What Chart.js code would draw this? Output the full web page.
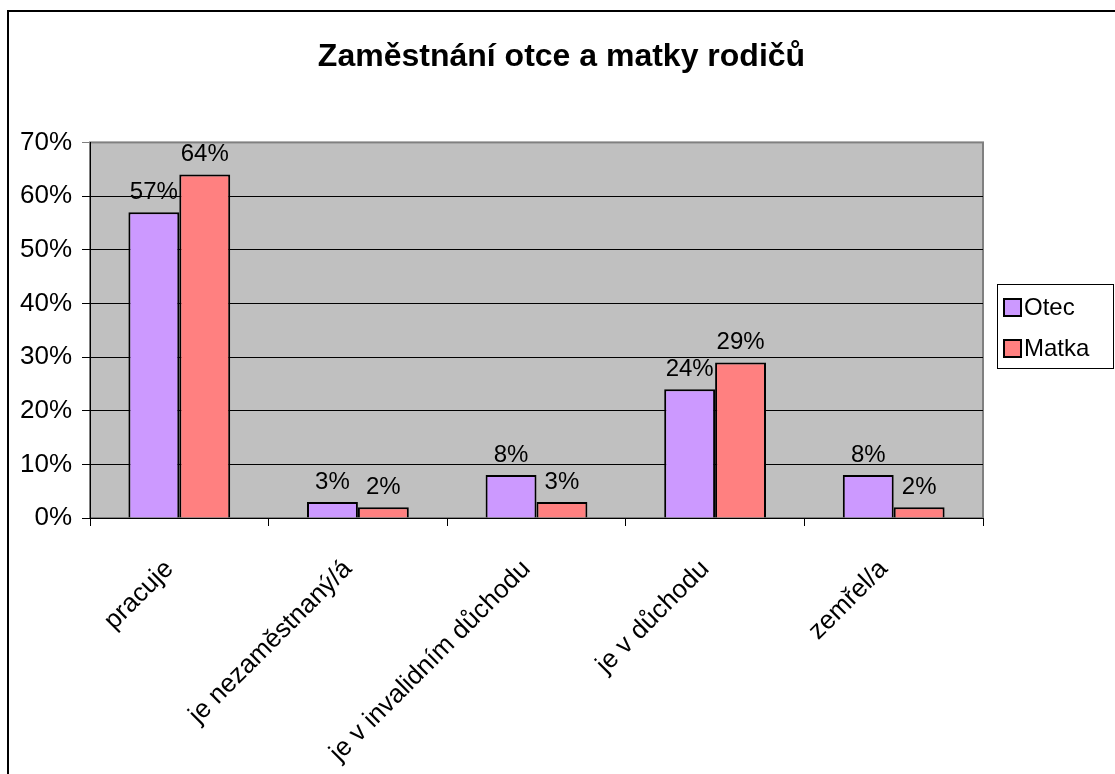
<!DOCTYPE html>
<html>
<head>
<meta charset="utf-8">
<script src="https://cdn.jsdelivr.net/npm/chart.js@4.4.1/dist/chart.umd.min.js"></script>
<style>
    html, body { margin: 0; padding: 0; background: #fff; overflow: hidden; }
    #frame { position: absolute; left: 7px; top: 10px; width: 1200px; height: 900px;
             border-left: 2px solid #000; border-top: 2px solid #000; }
    #wrap { position: absolute; left: 0; top: 0; width: 1115px; height: 774px; }
</style>
</head>
<body>
<div id="frame"></div>
<div id="wrap"><canvas id="jobChart" width="1115" height="774"></canvas></div>
<script>
// Chart data
const categories = ['pracuje', 'je nezaměstnaný/á', 'je v invalidním důchodu', 'je v důchodu', 'zemřel/a'];
const otecValues = [57, 3, 8, 24, 8];
const matkaValues = [64, 2, 3, 29, 2];
const yTicks = [0, 10, 20, 30, 40, 50, 60, 70];

const FONT = '"Liberation Sans", Arial, sans-serif';

// Grey plot background with a grey frame
const plotBackground = {
    id: 'plotBackground',
    beforeDraw(chart) {
        const { ctx, chartArea: a } = chart;
        ctx.save();
        ctx.fillStyle = '#C0C0C0';
        ctx.fillRect(a.left, a.top, a.right - a.left, a.bottom - a.top);
        ctx.strokeStyle = '#808080';
        ctx.lineWidth = 2;
        ctx.strokeRect(a.left, a.top, a.right - a.left, a.bottom - a.top);
        ctx.restore();
    }
};

// Percent labels above the bars
const valueLabels = {
    id: 'valueLabels',
    afterDatasetsDraw(chart) {
        const { ctx } = chart;
        ctx.save();
        ctx.font = '24px ' + FONT;
        ctx.fillStyle = '#000';
        ctx.textAlign = 'center';
        ctx.textBaseline = 'bottom';
        chart.data.datasets.forEach((ds, i) => {
            chart.getDatasetMeta(i).data.forEach((bar, j) => {
                ctx.fillText(ds.data[j] + '%', bar.x, bar.y - 8);
            });
        });
        ctx.restore();
    }
};

// Boxed legend on the right
const boxLegend = {
    id: 'boxLegend',
    afterDraw(chart) {
        const { ctx } = chart;
        const left = 997, top = 284, width = 116, height = 84;
        ctx.save();
        ctx.fillStyle = '#fff';
        ctx.fillRect(left, top, width, height);
        ctx.strokeStyle = '#000';
        ctx.lineWidth = 1;
        ctx.strokeRect(left + 0.5, top + 0.5, width, height);
        ctx.font = '24px ' + FONT;
        ctx.textBaseline = 'middle';
        chart.data.datasets.forEach((ds, i) => {
            const cy = top + 23 + i * 41;
            ctx.fillStyle = ds.backgroundColor;
            ctx.fillRect(1004, cy - 8, 17, 17);
            ctx.lineWidth = 2;
            ctx.strokeRect(1004, cy - 8, 17, 17);
            ctx.fillStyle = '#000';
            ctx.fillText(ds.label, 1024, cy + 1);
        });
        ctx.restore();
    }
};

const ctx = document.getElementById('jobChart').getContext('2d');
new Chart(ctx, {
    type: 'bar',
    data: {
        labels: categories,
        datasets: [{
            label: 'Otec',
            backgroundColor: '#CC99FF',
            borderColor: '#000',
            borderWidth: 2,
            data: otecValues,
        }, {
            label: 'Matka',
            backgroundColor: '#FF8080',
            borderColor: '#000',
            borderWidth: 2,
            data: matkaValues,
        }],
    },
    options: {
        responsive: false,
        animation: false,
        categoryPercentage: 0.57,
        barPercentage: 1,
        layout: { padding: { left: 8, right: 0, top: 0, bottom: 0 } },
        plugins: {
            legend: { display: false },
            tooltip: { enabled: false },
            title: {
                display: true,
                text: 'Zaměstnání otce a matky rodičů',
                color: '#000',
                font: { family: FONT, size: 32, weight: 'bold' },
                padding: { top: 38, bottom: 66 },
            },
        },
        scales: {
            x: {
                grid: { drawOnChartArea: false, offset: true, color: '#000', tickLength: 8 },
                border: { color: '#000', width: 1 },
                ticks: {
                    color: '#000',
                    font: { family: FONT, size: 26 },
                    minRotation: 45,
                    maxRotation: 45,
                    padding: 28,
                    labelOffset: -10,
                },
                afterFit(scale) { scale.height = 256; },
            },
            y: {
                min: 0,
                max: 70,
                afterBuildTicks(scale) { scale.ticks = yTicks.map((v) => ({ value: v })); },
                grid: {
                    color: (c) => (c.tick && c.tick.value === 70 ? '#808080' : '#000'),
                    tickLength: 8,
                },
                border: { color: '#000', width: 1 },
                ticks: {
                    color: '#000',
                    font: { family: FONT, size: 26 },
                    padding: 10,
                    callback: (v) => v + '%',
                },
                afterFit(scale) { scale.width = 82; },
            },
            // empty right-hand axis that only reserves room for the legend
            spacer: {
                type: 'linear',
                position: 'right',
                display: true,
                grid: { drawOnChartArea: false, drawTicks: false },
                border: { display: false },
                ticks: { display: false },
                afterFit(scale) { scale.width = 132; },
            },
        },
    },
    plugins: [plotBackground, valueLabels, boxLegend],
});
</script>
</body>
</html>
